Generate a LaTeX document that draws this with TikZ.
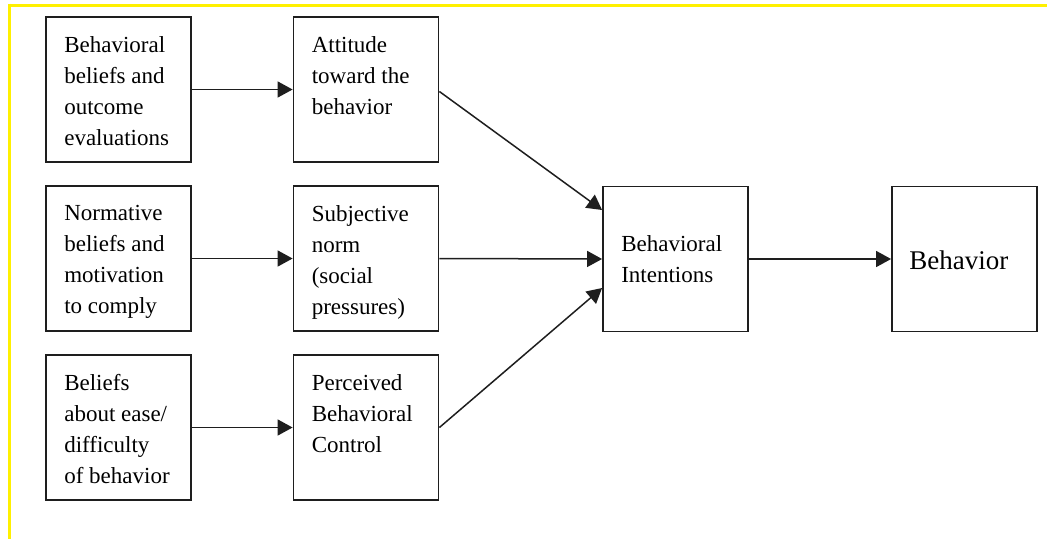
\documentclass[tikz,border=0pt]{standalone}
\usepackage{fontspec}
\setmainfont{Liberation Serif}
\usetikzlibrary{arrows.meta}
\definecolor{frameyellow}{RGB}{255,240,0}
\definecolor{ink}{RGB}{30,30,30}
\begin{document}
\begin{tikzpicture}[x=1pt,y=-1pt,
  box/.style={draw=ink,line width=1.8pt,minimum width=145pt,minimum height=145pt,inner sep=0pt},
  txt/.style={inner sep=0pt,align=left,font=\fontsize{23}{31}\selectfont,text=black},
  link/.style={draw=ink,line width=1.5pt,-{Triangle[length=15pt,width=16pt]}},
]
\useasboundingbox (0,0) rectangle (1047,539);
% frame edges
\draw[frameyellow,line width=3pt] (9.5,3.5) -- (9.5,539);
\draw[frameyellow,line width=3pt] (8,5) -- (1047,5);

% boxes
\node[box] (bb)   at (118.5,89.5)  {};
\node[box] (att)  at (366,89.5)    {};
\node[box] (nb)   at (118.5,258.5) {};
\node[box] (sn)   at (366,258.5)   {};
\node[box] (eb)   at (118.5,427.5) {};
\node[box] (pbc)  at (366,427.5)   {};
\node[box] (bi)   at (675.5,259)   {};
\node[box] (beh)  at (964.5,259)   {};

% box texts
\node[txt,anchor=north west] (tbb)  at ([xshift=19pt,yshift=-20pt]bb.north west)  {Behavioral\\beliefs and\\outcome\\evaluations};
\node[txt,anchor=north west] (tatt) at ([xshift=19pt,yshift=-20pt]att.north west) {Attitude\\toward the\\behavior};
\node[txt,anchor=north west] (tnb)  at ([xshift=19pt,yshift=-20pt]nb.north west)  {Normative\\beliefs and\\motivation\\to comply};
\node[txt,anchor=north west] (tsn)  at ([xshift=19pt,yshift=-20pt]sn.north west)  {Subjective\\norm\\(social\\pressures)};
\node[txt,anchor=north west] (teb)  at ([xshift=19pt,yshift=-20pt]eb.north west)  {Beliefs\\about ease/\\difficulty\\of behavior};
\node[txt,anchor=north west] (tpbc) at ([xshift=19pt,yshift=-20pt]pbc.north west) {Perceived\\Behavioral\\Control};
\node[txt,anchor=west] (tbi)  at ([xshift=19pt]bi.west)  {Behavioral\\Intentions};
\node[txt,anchor=west,font=\fontsize{27}{31}\selectfont] (tbeh) at ([xshift=18pt,yshift=-1pt]beh.west) {Behavior};

% connectors
\draw[link] (bb.east) -- (att.west);
\draw[link] (nb.east) -- (sn.west);
\draw[link] (eb.east) -- (pbc.west);
\draw[link] ([yshift=-2pt]att.east) -- ([yshift=49pt]bi.west);
\draw[link] (sn.east) -- (bi.west);
\draw[link] (pbc.east) -- ([yshift=-29pt]bi.west);
\draw[link] (bi.east) -- (beh.west);
\end{tikzpicture}
\end{document}
